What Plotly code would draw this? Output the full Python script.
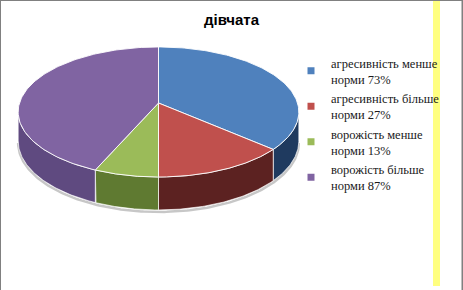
import numpy as np
import plotly.graph_objects as go

# ---- data ----
title_text = "дівчата"
labels = [
    "агресивність менше<br>норми 73%",
    "агресивність більше<br>норми 27%",
    "ворожість менше<br>норми 13%",
    "ворожість більше<br>норми 87%",
]
values = [73, 27, 13, 87]

# ---- style ----
top_colors = ["#4f81bd", "#c0504d", "#9bbb59", "#8064a2"]
side_colors = ["#1f3a5f", "#5c2221", "#5f7a31", "#5f4a80"]

W, H = 463, 290
# pie geometry (pixel-like units of the hidden axes)
CX, CY = 158.5, 103.0   # projected centre of the top face
A, B = 63.8, 139.0      # vertical / horizontal radius factors
K = 0.138               # perspective factor
D = 28.4                # thickness


def proj(phi_deg, depth=0.0):
    phi = np.radians(phi_deg)
    X = np.sin(phi)
    Z = -np.cos(phi)
    w = 1 - K * Z
    return CX + B * X / w, CY + (A * Z + depth * D) / w


total = float(sum(values))
cum = np.concatenate([[0.0], np.cumsum(values)]) / total * 360.0
phi_lo = np.degrees(np.arccos(-K))
phi_hi = 360.0 - phi_lo

fig = go.Figure()

# soft shadow under the front rim
sh = np.linspace(phi_lo, phi_hi, 200)
sx, sy = proj(sh, 1.0)
fig.add_trace(go.Scatter(x=sx, y=sy + 2, mode="lines",
                         line=dict(color="rgba(0,0,0,0.22)", width=2.5),
                         hoverinfo="skip", showlegend=False))

# side walls
for i in range(len(values)):
    a0, a1 = max(cum[i], phi_lo), min(cum[i + 1], phi_hi)
    if a1 <= a0:
        continue
    ph = np.linspace(a0, a1, 80)
    tx, ty = proj(ph, 0.0)
    bx, by = proj(ph, 1.0)
    px = np.concatenate([tx, bx[::-1], tx[:1]])
    py = np.concatenate([ty, by[::-1], ty[:1]])
    fig.add_trace(go.Scatter(x=px, y=py, mode="lines", fill="toself",
                             fillcolor=side_colors[i],
                             line=dict(color="rgba(255,255,255,0.85)", width=0.8),
                             hoverinfo="skip", showlegend=False))

# top faces
for i in range(len(values)):
    ph = np.linspace(cum[i], cum[i + 1], 120)
    tx, ty = proj(ph, 0.0)
    px = np.concatenate([[CX], tx, [CX]])
    py = np.concatenate([[CY], ty, [CY]])
    fig.add_trace(go.Scatter(x=px, y=py, mode="lines", fill="toself",
                             fillcolor=top_colors[i],
                             line=dict(color="white", width=0.9),
                             hoverinfo="skip", showlegend=False))

# legend entries
for i, lab in enumerate(labels):
    fig.add_trace(go.Scatter(x=[None], y=[None], mode="markers", name=lab,
                             marker=dict(symbol="square", size=7,
                                         color=top_colors[i])))

fig.update_layout(
    width=W, height=H,
    margin=dict(l=0, r=0, t=0, b=0, autoexpand=False),
    paper_bgcolor="white", plot_bgcolor="white",
    xaxis=dict(range=[0, W], visible=False, fixedrange=True),
    yaxis=dict(range=[H, 0], visible=False, fixedrange=True),
    title=dict(text="<b>" + title_text + "</b>", x=0.5, xanchor="center",
               y=1 - 20 / H, yanchor="middle",
               font=dict(family="Liberation Sans", size=15, color="black")),
    legend=dict(x=291 / W, xanchor="left", y=1 - 48 / H, yanchor="top",
                font=dict(family="Liberation Serif", size=12.5,
                          color="#1a1a1a"),
                bgcolor="rgba(0,0,0,0)", itemwidth=30),
    showlegend=True,
    shapes=[
        dict(type="rect", xref="x", yref="y", x0=433, x1=440, y0=0, y1=286,
             fillcolor="#ffff80", line=dict(width=0), layer="above"),
        dict(type="line", xref="paper", yref="paper", x0=0, x1=0, y0=0, y1=1,
             line=dict(color="#808080", width=2)),
        dict(type="line", xref="paper", yref="paper", x0=0, x1=1, y0=1, y1=1,
             line=dict(color="#808080", width=2)),
        dict(type="line", xref="paper", yref="paper", x0=1, x1=1, y0=0, y1=1,
             line=dict(color="#808080", width=3)),
    ],
)

fig.write_html("out.html")
